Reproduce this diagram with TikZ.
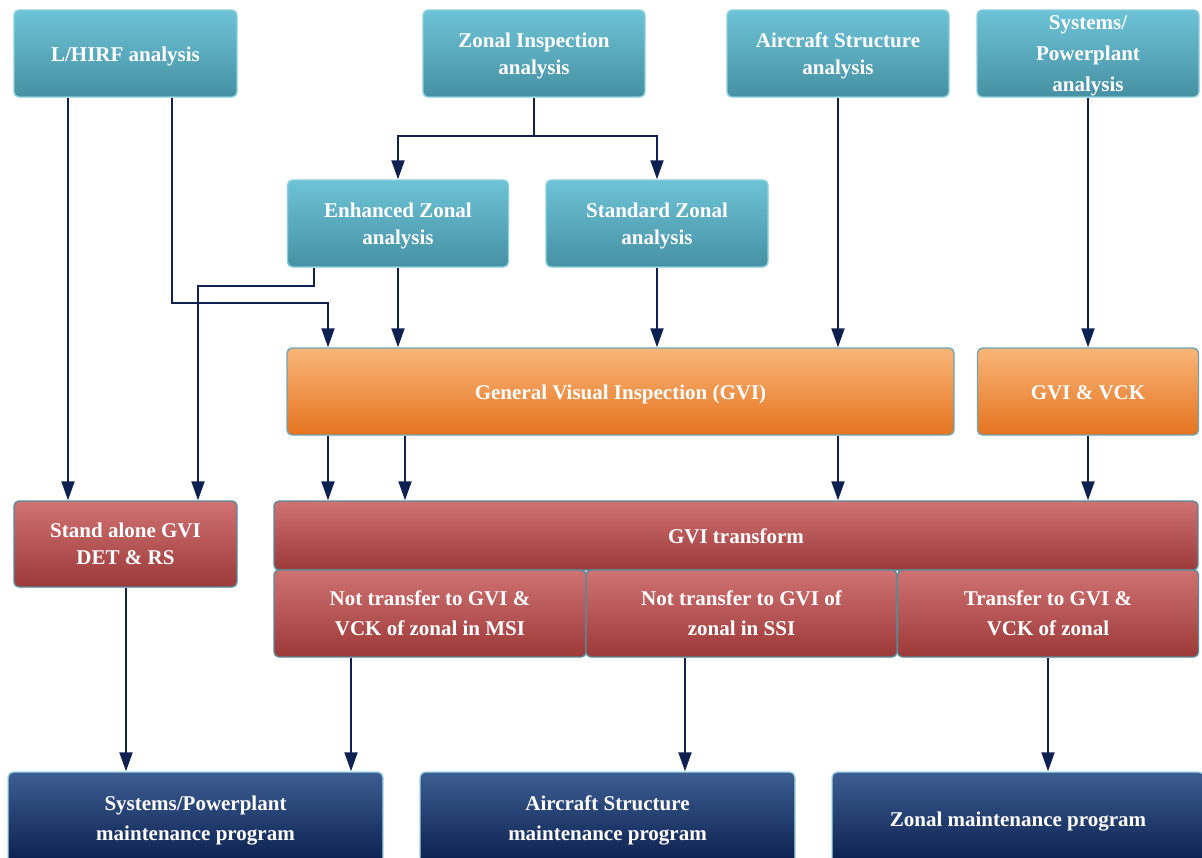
\documentclass[tikz,border=0pt]{standalone}
\usepackage{fontspec}
\setmainfont{Liberation Serif}
\usepackage{tikz}
\usetikzlibrary{arrows.meta, positioning, calc}
\definecolor{tealtop}{HTML}{6EC3D6}
\definecolor{tealbot}{HTML}{4690A3}
\definecolor{tealedge}{HTML}{8ACFDF}
\definecolor{orangetop}{HTML}{F9B678}
\definecolor{orangebot}{HTML}{E57320}
\definecolor{redtop}{HTML}{D07272}
\definecolor{redbot}{HTML}{9C3939}
\definecolor{navytop}{HTML}{3D5E92}
\definecolor{navybot}{HTML}{0B1F4E}
\definecolor{arrowcol}{HTML}{0E2150}
\tikzset{
  box/.style={rounded corners=5pt, line width=1.4pt, text=white, align=center,
    font=\fontsize{21}{27}\selectfont\bfseries, inner sep=0pt, text depth=0pt,
    execute at begin node={\rule{0pt}{16pt}}},
  wide/.style={font=\fontsize{21}{30}\selectfont\bfseries},
  tealbox/.style={box, draw=tealedge, top color=tealtop, bottom color=tealbot},
  orangebox/.style={box, draw=tealbot!80, top color=orangetop, bottom color=orangebot},
  redbox/.style={box, draw=tealbot!70!gray, top color=redtop, bottom color=redbot},
  navybox/.style={box, draw=tealedge!80, top color=navytop, bottom color=navybot},
  arr/.style={draw=arrowcol, line width=2pt, -{Triangle[length=19pt,width=13pt]}},
  ln/.style={draw=arrowcol, line width=2pt}
}

\begin{document}
\begin{tikzpicture}[x=1pt, y=-1pt]
  \useasboundingbox (0,0) rectangle (1202,857);
  % top row
  \node[tealbox, minimum width=223, minimum height=87] (lhirf) at (125.5,53.5) {L/HIRF analysis};
  \node[tealbox, minimum width=222, minimum height=87] (zonal) at (534,53.5) {Zonal Inspection\\analysis};
  \node[tealbox, minimum width=222, minimum height=87] (acstruct) at (838,53.5) {Aircraft Structure\\analysis};
  \node[tealbox, minimum width=222, minimum height=87, font=\fontsize{21}{31}\selectfont\bfseries] (syspp) at (1088,53.5) {Systems/\\Powerplant\\analysis};
  % zonal split
  \node[tealbox, minimum width=221, minimum height=87] (enhanced) at (398,223.5) {Enhanced Zonal\\analysis};
  \node[tealbox, minimum width=222, minimum height=87] (standard) at (657,223.5) {Standard Zonal\\analysis};
  % GVI row
  \node[orangebox, minimum width=667, minimum height=87] (gvi) at (620.5,391.5) {General Visual Inspection (GVI)};
  \node[orangebox, minimum width=221, minimum height=87] (gvivck) at (1088,391.5) {GVI \& VCK};
  % transform row
  \node[redbox, minimum width=223, minimum height=86] (standalone) at (125.5,544) {Stand alone GVI\\DET \& RS};
  \node[redbox, minimum width=924, minimum height=69] (transform) at (736,535.5) {GVI transform};
  \node[redbox, wide, minimum width=312, minimum height=87] (msi) at (430,613.5) {Not transfer to GVI \&\\VCK of zonal in MSI};
  \node[redbox, wide, minimum width=311, minimum height=87] (ssi) at (741.5,613.5) {Not transfer to GVI of\\zonal in SSI};
  \node[redbox, wide, minimum width=301, minimum height=87] (trans) at (1048,613.5) {Transfer to GVI \&\\VCK of zonal};
  % programs
  \node[navybox, wide, minimum width=375, minimum height=92] (syspm) at (195.5,818) {Systems/Powerplant\\maintenance program};
  \node[navybox, wide, minimum width=375, minimum height=92] (acpm) at (607.5,818) {Aircraft Structure\\maintenance program};
  \node[navybox, minimum width=372, minimum height=92] (zonpm) at (1018,818) {Zonal maintenance program};

  % connectors
  \draw[arr] ([xshift=-57.5]lhirf.south) to ([xshift=-57.5]standalone.north);
  \draw[arr] ([xshift=46.5]lhirf.south) -- ++(0,205) -| ([xshift=-292.5]gvi.north);
  \draw[ln] (zonal.south) -- ++(0,38) coordinate (zsplit);
  \draw[arr] (zsplit) -| (enhanced.north);
  \draw[arr] (zsplit) -| (standard.north);
  \draw[arr] ([xshift=-84]enhanced.south) -- ++(0,18) -| ([xshift=72.5]standalone.north);
  \draw[arr] (enhanced.south) to (enhanced.south |- gvi.north);
  \draw[arr] (standard.south) to (standard.south |- gvi.north);
  \draw[arr] (acstruct.south) to (acstruct.south |- gvi.north);
  \draw[arr] (syspp.south) to (syspp.south |- gvivck.north);
  \draw[arr] ([xshift=-292.5]gvi.south) to ([xshift=-292.5]gvi.south |- transform.north);
  \draw[arr] ([xshift=-215.5]gvi.south) to ([xshift=-215.5]gvi.south |- transform.north);
  \draw[arr] ([xshift=217.5]gvi.south) to ([xshift=217.5]gvi.south |- transform.north);
  \draw[arr] (gvivck.south) to (gvivck.south |- transform.north);
  \draw[arr] ([xshift=0.5]standalone.south) to ([xshift=0.5]standalone.south |- syspm.north);
  \draw[arr] ([xshift=-79]msi.south) to ([xshift=-79]msi.south |- syspm.north);
  \draw[arr] ([xshift=-56.5]ssi.south) to ([xshift=-56.5]ssi.south |- acpm.north);
  \draw[arr] (trans.south) to (trans.south |- zonpm.north);
\end{tikzpicture}
\end{document}
